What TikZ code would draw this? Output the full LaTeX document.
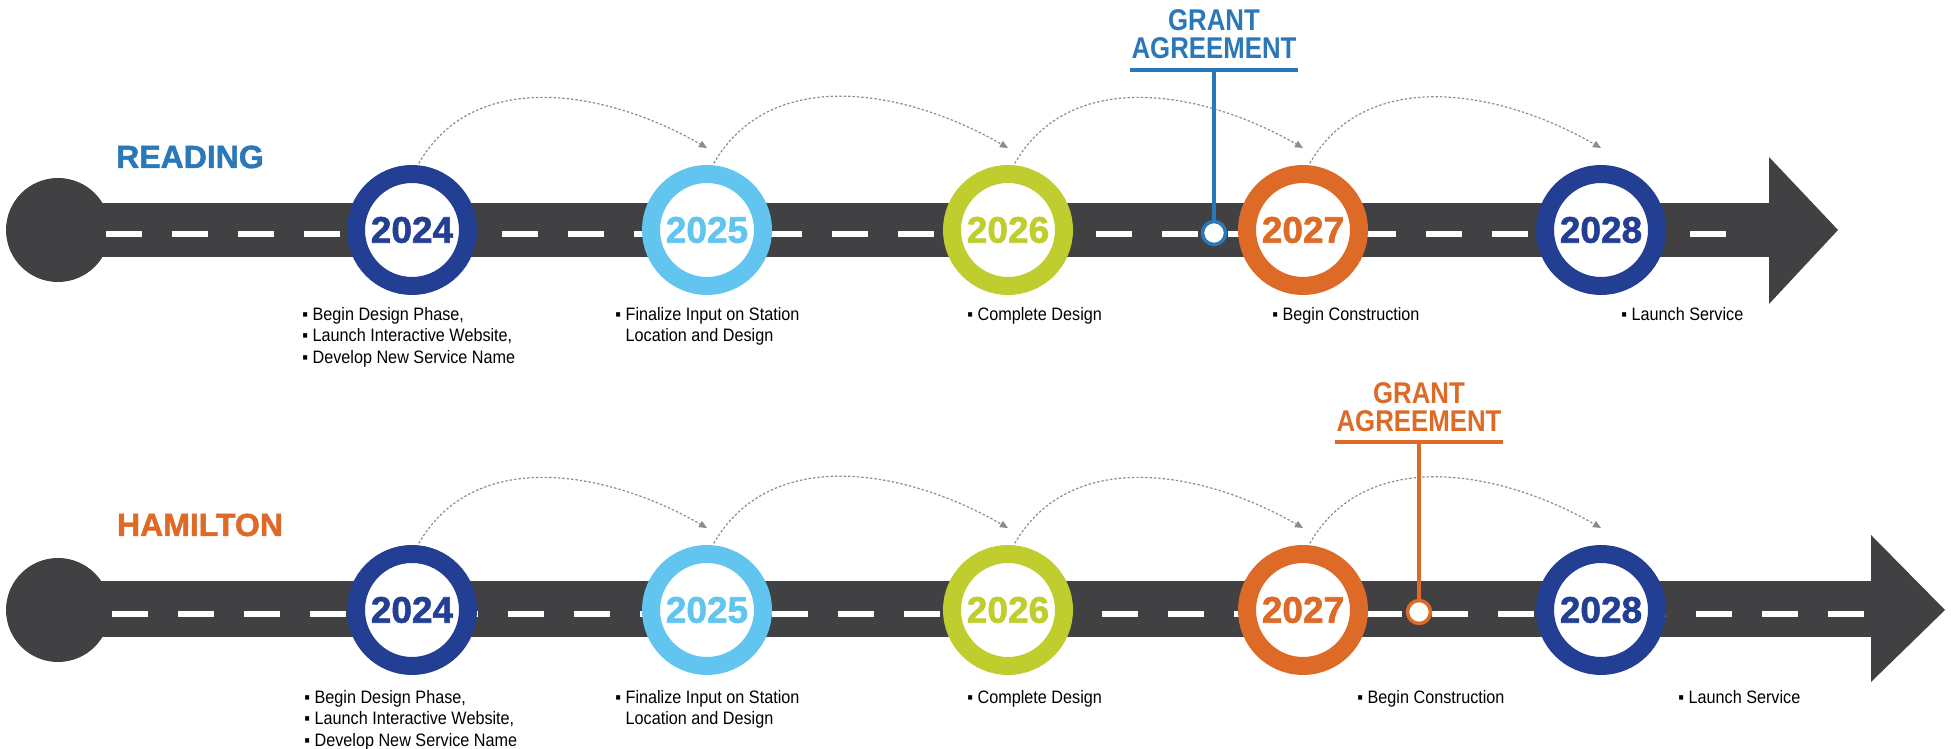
\documentclass[tikz,border=0pt]{standalone}
\usepackage{fontspec}
\setmainfont{Liberation Sans}
\newfontfamily\condbf{Liberation Sans}[FakeStretch=0.86]
\newfontfamily\heavy{Liberation Sans}[FakeBold=1.5]
\newfontfamily\itemfont{Liberation Sans}[FakeStretch=0.9]
\usepackage{tikz}
\usetikzlibrary{arrows.meta}

\definecolor{roadgray}{HTML}{414042}
\definecolor{navy}{HTML}{233F93}
\definecolor{sky}{HTML}{62C5F0}
\definecolor{lime}{HTML}{BFCD2E}
\definecolor{orng}{HTML}{DD6A27}
\definecolor{readblue}{HTML}{2B78B8}
\definecolor{arcgray}{HTML}{8C8C8C}

\newcommand\bul{▪\ }
\newcommand\nobul{\phantom{▪\ }}

\begin{document}
\begin{tikzpicture}[x=0.5pt,y=0.5pt,
  road/.style={fill=roadgray},
  lane/.style={draw=white, line width=3pt, dash pattern=on 18pt off 15pt},
  yearring/.style={circle, draw=#1, text=#1, fill=white, line width=9pt, minimum size=56pt, inner sep=0pt, font=\heavy\bfseries\fontsize{18.5}{18.5}\selectfont},
  hop/.style={draw=arcgray, line width=0.6pt, dash pattern=on 1.2pt off 1pt, -{Triangle[length=4pt,width=3.5pt]}},
  city/.style={anchor=base, font=\heavy\bfseries\fontsize{16}{16}\selectfont},
  items/.style={anchor=north west, inner sep=0pt, align=left, font=\itemfont\fontsize{9}{10.75}\selectfont},
  grant/.style={anchor=south, inner sep=0pt, align=center, text=#1, font=\condbf\bfseries\fontsize{15}{14}\selectfont},
  grantline/.style={draw=#1, line width=2pt},
  grantdot/.style={circle, draw=#1, fill=white, line width=1.75pt, minimum size=11.5pt, inner sep=0pt}]
\useasboundingbox (0,0) rectangle (1951,749);

% Reading road
\fill[road] (58,519) circle (26pt);
\fill[road] (58,492) rectangle (1769,546);
\fill[road] (1769,592) -- (1838,519) -- (1769,445) -- cycle;
\draw[lane] (106,515) -- (1726,515);
\node[city, text=readblue] (reading) at (190,581) {READING};

\node[grant=readblue] (gta) at (1214,690) {GRANT\\AGREEMENT};
\coordinate (gtbar) at (1214,679);
\node[grantdot=readblue] (gtdot) at (1214,516) {};
\draw[grantline=readblue] ([xshift=-42pt]gtbar) -- ([xshift=42pt]gtbar);

\node[yearring=navy] (r24a) at (412,519) {2024};
\node[yearring=sky]  (r25a) at (707,519) {2025};
\node[yearring=lime] (r26a) at (1008,519) {2026};
\node[yearring=orng] (r27a) at (1303,519) {2027};
\node[yearring=navy] (r28a) at (1601,519) {2028};

\draw[hop] ([yshift=1pt]r24a.84) to[out=60,in=150] ([yshift=8.5pt]r25a.north);
\draw[hop] ([yshift=1pt]r25a.84) to[out=60,in=150] ([yshift=8.5pt]r26a.north);
\draw[hop] ([yshift=1pt]r26a.84) to[out=60,in=150] ([yshift=8.5pt]r27a.north);
\draw[hop] ([yshift=1pt]r27a.84) to[out=60,in=150] ([yshift=8.5pt]r28a.north);
\draw[grantline=readblue] (gtbar) -- (gtdot);

\node[items] (t24a) at (302,442) {\bul Begin Design Phase,\\ \bul Launch Interactive Website,\\ \bul Develop New Service Name};
\node[items] (t25a) at (615,442) {\bul Finalize Input on Station\\ \nobul Location and Design};
\node[items] (t26a) at (967,442) {\bul Complete Design};
\node[items] (t27a) at (1272,442) {\bul Begin Construction};
\node[items] (t28a) at (1621,442) {\bul Launch Service};

% Hamilton road
\fill[road] (58,139) circle (26pt);
\fill[road] (58,112) rectangle (1871,168);
\fill[road] (1871,214) -- (1945,139) -- (1871,67) -- cycle;
\draw[lane] (112,135) -- (1865,135);
\node[city, text=orng] (hamilton) at (200,213) {HAMILTON};

\node[grant=orng] (gtb) at (1419,317) {GRANT\\AGREEMENT};
\coordinate (gbbar) at (1419,307);
\node[grantdot=orng] (gbdot) at (1419,137) {};
\draw[grantline=orng] ([xshift=-42pt]gbbar) -- ([xshift=42pt]gbbar);

\node[yearring=navy] (r24b) at (412,139) {2024};
\node[yearring=sky]  (r25b) at (707,139) {2025};
\node[yearring=lime] (r26b) at (1008,139) {2026};
\node[yearring=orng] (r27b) at (1303,139) {2027};
\node[yearring=navy] (r28b) at (1601,139) {2028};

\draw[hop] ([yshift=1pt]r24b.84) to[out=60,in=150] ([yshift=8.5pt]r25b.north);
\draw[hop] ([yshift=1pt]r25b.84) to[out=60,in=150] ([yshift=8.5pt]r26b.north);
\draw[hop] ([yshift=1pt]r26b.84) to[out=60,in=150] ([yshift=8.5pt]r27b.north);
\draw[hop] ([yshift=1pt]r27b.84) to[out=60,in=150] ([yshift=8.5pt]r28b.north);
\draw[grantline=orng] (gbbar) -- (gbdot);

\node[items] (t24b) at (304,59) {\bul Begin Design Phase,\\ \bul Launch Interactive Website,\\ \bul Develop New Service Name};
\node[items] (t25b) at (615,59) {\bul Finalize Input on Station\\ \nobul Location and Design};
\node[items] (t26b) at (967,59) {\bul Complete Design};
\node[items] (t27b) at (1357,59) {\bul Begin Construction};
\node[items] (t28b) at (1678,59) {\bul Launch Service};
\end{tikzpicture}
\end{document}
